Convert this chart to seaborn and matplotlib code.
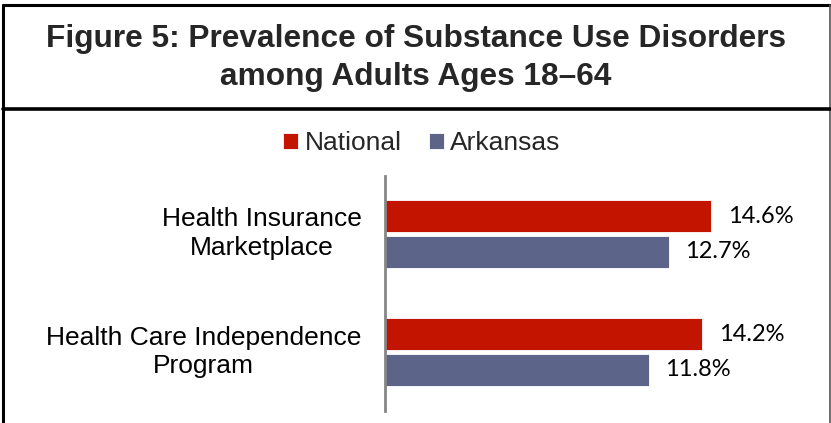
import matplotlib
matplotlib.use("Agg")
import matplotlib.pyplot as plt
from matplotlib.lines import Line2D
import seaborn as sns
import pandas as pd

categories = ["Health Insurance\nMarketplace", "Health Care Independence\nProgram"]
series_names = ["National", "Arkansas"]
national = [14.6, 14.2]
arkansas = [12.7, 11.8]
colors = ["#C31400", "#5C6589"]
title = "Figure 5: Prevalence of Substance Use Disorders\namong Adults Ages 18\u201364"

rows = []
for c, n, a in zip(categories, national, arkansas):
    rows.append({"Category": c, "Series": series_names[0], "Value": n})
    rows.append({"Category": c, "Series": series_names[1], "Value": a})
df = pd.DataFrame(rows)

sns.set_theme(style="white")
plt.rcParams["font.family"] = ["Liberation Sans", "DejaVu Sans"]

W, H = 831, 423
fig = plt.figure(figsize=(W / 100, H / 100), dpi=100)

def fx(px):
    return px / W

def fy(py):
    return 1 - py / H

ax = fig.add_axes([fx(385), fy(411), fx(787) - fx(385), fy(176) - fy(411)])
sns.barplot(data=df, y="Category", x="Value", hue="Series", palette=colors,
            orient="h", width=0.6, gap=0.1, ax=ax, saturation=1,
            edgecolor="white", linewidth=0.6)
ax.set_xlim(0, 18)
ax.set_ylim(1.5, -0.49)
ax.set_xlabel("")
ax.set_ylabel("")
ax.set_xticks([])
for s in ["top", "right", "bottom"]:
    ax.spines[s].set_visible(False)
ax.spines["left"].set_color("#868686")
ax.spines["left"].set_linewidth(2)
ax.tick_params(axis="y", length=0, pad=17, labelsize=19, labelcolor="black")
for lbl in ax.get_yticklabels():
    lbl.set_multialignment("center")
    lbl.set_linespacing(1.25)
    lbl.set_verticalalignment("center")

for cont in ax.containers:
    ax.bar_label(cont, fmt="%.1f%%", padding=12, fontsize=17,
                 family=["Lato", "DejaVu Sans"], color="black")

handles, labels = ax.get_legend_handles_labels()
ax.get_legend().remove()
fig.legend(handles, labels, loc="center", bbox_to_anchor=(fx(422), fy(143)),
           ncol=2, frameon=False, fontsize=19, handlelength=0.55,
           handleheight=0.55, handletextpad=0.25, columnspacing=1.05)

fig.text(0.5, fy(58), title, ha="center", va="center", fontsize=22.8,
         fontweight="bold", linespacing=1.32)

# frames
fig.add_artist(Line2D([fx(3), fx(830)], [fy(5), fy(5)], color="black", lw=2.2))
fig.add_artist(Line2D([fx(3.5), fx(3.5)], [fy(5), fy(423)], color="black", lw=2.2))
fig.add_artist(Line2D([fx(830), fx(830)], [fy(5), fy(423)], color="#555555", lw=1.2))
fig.add_artist(Line2D([fx(3), fx(830)], [fy(109), fy(109)], color="black", lw=2.6))

fig.savefig("out.png", dpi=100)
